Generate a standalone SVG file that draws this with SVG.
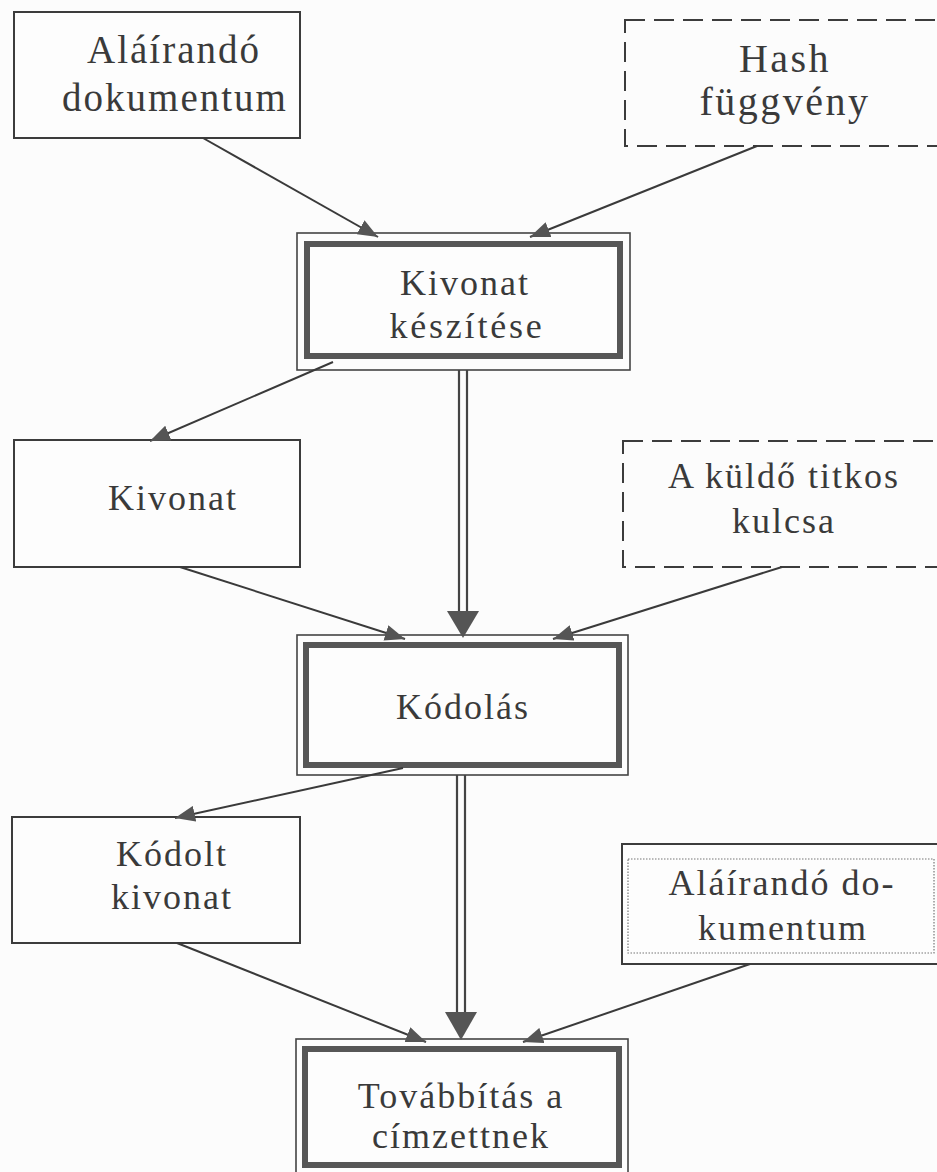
<svg xmlns="http://www.w3.org/2000/svg" width="937" height="1172" viewBox="0 0 937 1172">
  <defs>
    <style>
      .lbl{font-family:"Liberation Serif","Times New Roman",serif;font-size:36px;letter-spacing:2px;fill:#3a3a3a;text-anchor:middle}
      .big{font-size:39px}
      .bigger{font-size:40px;letter-spacing:2.5px}
      .box{fill:#fdfdfd;stroke:#3c3c3c;stroke-width:2}
      .dash{fill:none;stroke:#3c3c3c;stroke-width:2;stroke-dasharray:20 9}
      .dots{fill:none;stroke:#777;stroke-width:1.2;stroke-dasharray:1.5 1.5}
      .frame-out{fill:#fdfdfd;stroke:#444;stroke-width:1.6}
      .frame-in{fill:#fdfdfd;stroke:#575757;stroke-width:6}
      .edge{fill:none;stroke:#3a3a3a;stroke-width:2}
      .shaft{stroke:#444;stroke-width:2.2}
      .head{fill:#555}
    </style>
    <marker id="tip" viewBox="0 0 20 16" refX="20" refY="8" markerWidth="20" markerHeight="16" markerUnits="userSpaceOnUse" orient="auto">
      <path d="M0,0 L20,8 L0,16 z" fill="#555"/>
    </marker>
  </defs>

  <rect x="0" y="0" width="937" height="1172" fill="#fcfcfc"/>

  <!-- nodes -->
  <g id="doc">
    <rect class="box" x="14" y="12" width="286" height="126"/>
    <text class="lbl big" x="174" y="63">Aláírandó</text>
    <text class="lbl big" x="175" y="111">dokumentum</text>
  </g>

  <g id="hash">
    <rect class="dash" x="625" y="20" width="330" height="126"/>
    <text class="lbl bigger" x="785" y="72">Hash</text>
    <text class="lbl bigger" x="785" y="115">függvény</text>
  </g>

  <g id="make-digest">
    <rect class="frame-out" x="297" y="233" width="333" height="137"/>
    <rect class="frame-in" x="307" y="244" width="313" height="112"/>
    <text class="lbl" x="465" y="295">Kivonat</text>
    <text class="lbl" x="467" y="338" style="letter-spacing:2.8px">készítése</text>
  </g>

  <g id="digest">
    <rect class="box" x="14" y="440" width="286" height="127"/>
    <text class="lbl" x="173" y="510">Kivonat</text>
  </g>

  <g id="secret-key">
    <rect class="dash" x="623" y="441" width="330" height="126"/>
    <text class="lbl" x="784" y="488">A küldő titkos</text>
    <text class="lbl" x="784" y="533">kulcsa</text>
  </g>

  <g id="encode">
    <rect class="frame-out" x="297" y="635" width="331" height="140"/>
    <rect class="frame-in" x="306" y="645" width="313" height="120"/>
    <text class="lbl" x="463" y="719">Kódolás</text>
  </g>

  <g id="encoded-digest">
    <rect class="box" x="12" y="817" width="288" height="126"/>
    <text class="lbl" x="172" y="866">Kódolt</text>
    <text class="lbl" x="172" y="909">kivonat</text>
  </g>

  <g id="doc-copy">
    <rect class="box" x="622" y="844" width="330" height="120"/>
    <rect class="dots" x="628" y="859" width="306" height="94"/>
    <text class="lbl" x="782" y="895">Aláírandó do-</text>
    <text class="lbl" x="783" y="940">kumentum</text>
  </g>

  <g id="send">
    <rect class="frame-out" x="296" y="1039" width="332" height="150"/>
    <rect class="frame-in" x="305" y="1049" width="314" height="116"/>
    <text class="lbl" x="461" y="1108">Továbbítás a</text>
    <text class="lbl" x="461" y="1148">címzettnek</text>
  </g>

  <!-- connectors -->
  <g id="connectors">
    <line class="edge" x1="203" y1="138" x2="378" y2="237" marker-end="url(#tip)"/>
    <line class="edge" x1="757" y1="146" x2="530" y2="237" marker-end="url(#tip)"/>
    <line class="edge" x1="333" y1="362" x2="150" y2="441" marker-end="url(#tip)"/>
    <line class="edge" x1="180" y1="567" x2="405" y2="639" marker-end="url(#tip)"/>
    <line class="edge" x1="782" y1="567" x2="553" y2="639" marker-end="url(#tip)"/>
    <line class="edge" x1="403" y1="768" x2="175" y2="818" marker-end="url(#tip)"/>
    <line class="edge" x1="177" y1="943" x2="426" y2="1042" marker-end="url(#tip)"/>
    <line class="edge" x1="750" y1="964" x2="523" y2="1042" marker-end="url(#tip)"/>

    <!-- double-line main flow arrows -->
    <line class="shaft" x1="459" y1="370" x2="459" y2="613"/>
    <line class="shaft" x1="467" y1="370" x2="467" y2="613"/>
    <polygon class="head" points="447,611 479,611 463,638"/>

    <line class="shaft" x1="457" y1="775" x2="457" y2="1014"/>
    <line class="shaft" x1="465" y1="775" x2="465" y2="1014"/>
    <polygon class="head" points="445,1012 477,1012 461,1040"/>
  </g>
</svg>
